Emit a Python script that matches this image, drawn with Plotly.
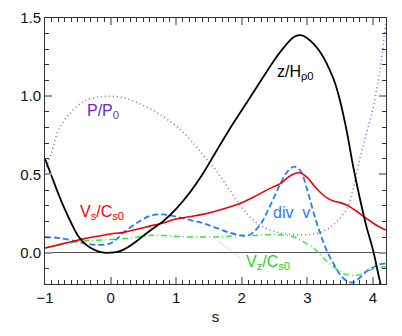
import plotly.graph_objects as go

# Abscissa shared by all profiles
s = [-1.0, -0.9, -0.8, -0.7, -0.6, -0.5, -0.4, -0.3, -0.2, -0.1, 0.0, 0.1, 0.2, 0.3, 0.4,
     0.6, 0.8, 1.0, 1.2, 1.4, 1.6, 1.8, 2.0, 2.2, 2.4, 2.6, 2.8, 2.9, 3.0, 3.2, 3.4,
     3.5, 3.6, 3.7, 3.8, 3.9, 4.0, 4.1, 4.15]
z_hp0 = [0.60, 0.49, 0.38, 0.28, 0.19, 0.11, 0.06, 0.03, 0.01, 0.0, 0.0, 0.005, 0.02, 0.045, 0.075,
         0.14, 0.20, 0.28, 0.38, 0.50, 0.64, 0.78, 0.91, 1.04, 1.17, 1.29, 1.38, 1.39, 1.37, 1.28, 1.11,
         0.97, 0.78, 0.55, 0.35, 0.17, 0.02, -0.17, -0.26]

s_p = [-1.0, -0.9, -0.8, -0.7, -0.6, -0.5, -0.4, -0.2, 0.0, 0.2, 0.4, 0.6, 0.8, 1.0, 1.2, 1.4,
       1.6, 1.8, 2.0, 2.2, 2.4, 2.6, 2.8, 3.0, 3.2, 3.4, 3.6, 3.7, 3.8, 3.9, 4.0, 4.1, 4.2]
p_p0 = [0.52, 0.64, 0.78, 0.85, 0.90, 0.94, 0.97, 0.995, 1.0, 0.99, 0.96, 0.92, 0.87, 0.81, 0.73, 0.63,
        0.53, 0.41, 0.29, 0.20, 0.15, 0.125, 0.115, 0.115, 0.13, 0.18, 0.28, 0.41, 0.60, 0.76, 0.92, 1.15, 1.48]

s_v = [-1.0, -0.8, -0.6, -0.4, -0.2, 0.0, 0.2, 0.4, 0.6, 0.8, 1.0, 1.2, 1.4, 1.6, 1.8, 2.0, 2.2,
       2.4, 2.6, 2.7, 2.8, 2.9, 3.0, 3.1, 3.2, 3.3, 3.4, 3.5, 3.6, 3.7, 3.8, 3.9, 4.0, 4.1, 4.2]
vs_cs0 = [0.03, 0.05, 0.07, 0.09, 0.105, 0.12, 0.13, 0.15, 0.17, 0.19, 0.215, 0.23, 0.245, 0.265, 0.29,
          0.32, 0.36, 0.405, 0.445, 0.48, 0.505, 0.51, 0.48, 0.43, 0.385, 0.35, 0.33, 0.32, 0.305, 0.28,
          0.25, 0.22, 0.19, 0.165, 0.145]

s_d = [-1.0, -0.8, -0.6, -0.4, -0.2, 0.0, 0.1, 0.2, 0.4, 0.6, 0.8, 1.0, 1.2, 1.4, 1.6, 1.8, 2.0, 2.1,
       2.2, 2.3, 2.4, 2.5, 2.6, 2.7, 2.8, 2.9, 3.0, 3.1, 3.2, 3.3, 3.4, 3.5, 3.6, 3.7, 3.8, 3.9, 4.0, 4.1, 4.2]
div_v = [0.10, 0.095, 0.08, 0.06, 0.05, 0.06, 0.09, 0.13, 0.19, 0.235, 0.245, 0.23, 0.21, 0.19, 0.16,
         0.13, 0.11, 0.11, 0.14, 0.19, 0.27, 0.36, 0.45, 0.52, 0.55, 0.52, 0.40, 0.25, 0.12, 0.01, -0.07,
         -0.14, -0.18, -0.19, -0.16, -0.12, -0.095, -0.075, -0.07]

s_z = [-1.0, -0.8, -0.6, -0.4, -0.2, 0.0, 0.2, 0.4, 0.6, 0.8, 1.0, 1.2, 1.4, 1.6, 1.8, 2.0, 2.2, 2.4,
       2.6, 2.8, 3.0, 3.1, 3.2, 3.3, 3.4, 3.5, 3.6, 3.7, 3.8, 3.9, 4.0, 4.1, 4.2]
vz_cs0 = [0.03, 0.05, 0.065, 0.075, 0.08, 0.085, 0.09, 0.10, 0.11, 0.11, 0.105, 0.10, 0.10, 0.10, 0.105,
          0.11, 0.11, 0.115, 0.115, 0.10, 0.055, 0.03, -0.015, -0.055, -0.09, -0.12, -0.14, -0.145,
          -0.14, -0.12, -0.105, -0.095, -0.09]

RED = "rgb(240,0,0)"
BLUE = "rgb(40,125,240)"
GREEN = "rgb(60,230,60)"
PURPLE_LINE = "rgb(155,95,225)"

fig = go.Figure()
fig.add_trace(go.Scatter(x=s_p, y=p_p0, mode="lines", line=dict(color=PURPLE_LINE, width=1.6, dash="1px,3px", shape="spline")))
fig.add_trace(go.Scatter(x=s_z, y=vz_cs0, mode="lines", line=dict(color=GREEN, width=1.5, dash="6px,3px,1px,3px", shape="spline")))
fig.add_trace(go.Scatter(x=s_d, y=div_v, mode="lines", line=dict(color=BLUE, width=1.8, dash="6px,3px", shape="spline")))
fig.add_trace(go.Scatter(x=s_v, y=vs_cs0, mode="lines", line=dict(color=RED, width=1.6, shape="spline")))
fig.add_trace(go.Scatter(x=s, y=z_hp0, mode="lines", line=dict(color="black", width=1.8, shape="spline")))

# faint leader from the V_z label towards its curve
fig.add_shape(type="line", x0=1.63, y0=0.078, x1=1.98, y1=-0.033,
              line=dict(color="rgba(90,210,90,0.35)", width=1))

label_font = "Liberation Sans, Arial, sans-serif"
labels = [
    (2.82, 1.15, "z/H<sub>ρ0</sub>", "black"),
    (-0.11, 0.90, "P/P<sub>0</sub>", "rgb(110,40,200)"),
    (-0.13, 0.26, "V<sub>s</sub>/C<sub>s0</sub>", RED),
    (2.76, 0.26, "div  v", BLUE),
    (2.40, -0.065, "V<sub>z</sub>/C<sub>s0</sub>", "rgb(40,205,40)"),
]
for lx, ly, txt, col in labels:
    fig.add_annotation(x=lx, y=ly, text=txt, showarrow=False,
                       font=dict(family=label_font, size=16, color=col))

axis_common = dict(
    showline=True, linecolor="#333", linewidth=1, mirror="allticks",
    ticks="inside", ticklen=7, tickwidth=2, tickcolor="#999",
    showgrid=False,
    tickfont=dict(family=label_font, size=15, color="#111"),
)

fig.update_xaxes(range=[-1, 4.2], dtick=1, tick0=0, zeroline=False,
                 minor=dict(dtick=0.1, ticks="inside", ticklen=4, tickcolor="#333", tickwidth=1, showgrid=False),
                 title=dict(text="s", font=dict(family=label_font, size=15, color="#111"), standoff=6),
                 **axis_common)
fig.update_yaxes(range=[-0.2, 1.5], dtick=0.5, tick0=0, tickformat=".1f",
                 zeroline=True, zerolinecolor="#555", zerolinewidth=1,
                 minor=dict(dtick=0.1, ticks="inside", ticklen=4, tickcolor="#333", tickwidth=1, showgrid=False),
                 **axis_common)

fig.update_layout(
    width=402, height=336,
    margin=dict(l=45, r=16, t=9, b=52),
    paper_bgcolor="white", plot_bgcolor="white",
    showlegend=False,
)

fig.write_html("out.html")
